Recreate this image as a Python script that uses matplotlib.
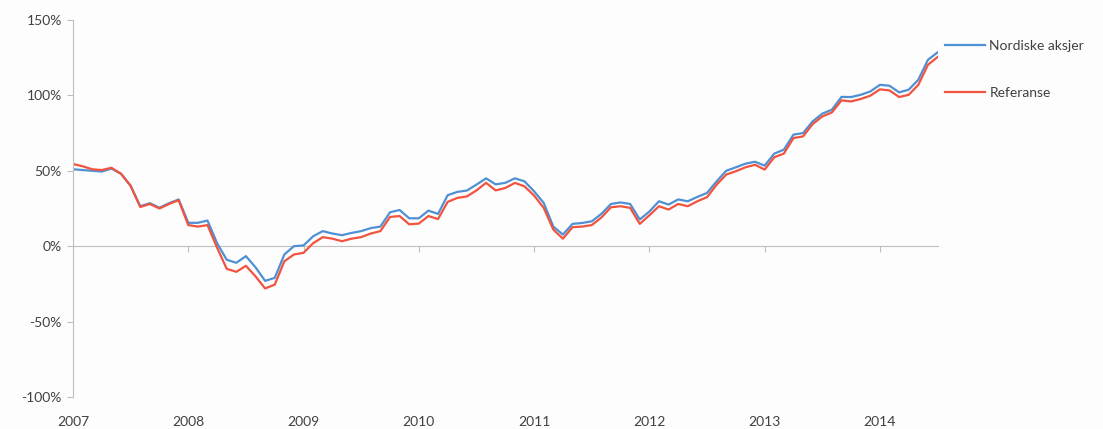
import matplotlib
matplotlib.use('Agg')
import matplotlib.pyplot as plt
from matplotlib.ticker import FuncFormatter

# monthly values, Jan 2007 .. Jul 2014 (percent)
nordiske = [51, 50.5, 50, 49.5, 51.5, 48, 40, 26.5, 28.5, 25.5,
            28.5, 31, 15.5, 15.5, 17, 2, -9, -11, -6.6, -14,
            -23, -21, -5.5, 0, 0.5, 6.6, 10, 8.4, 7.3, 8.8,
            10, 12, 13, 22.5, 24, 18.5, 18.5, 23.6, 21.4, 33.8,
            36, 36.9, 40.8, 45, 41, 42, 45, 43, 36.4, 28.7,
            13, 7.7, 14.8, 15.4, 16.5, 21.4, 28, 29, 28, 17.7,
            23, 29.8, 27.6, 31, 29.8, 32.7, 35.3, 43, 50, 52.3,
            54.7, 56, 53.4, 61.4, 64, 74, 75, 82.8, 87.9, 90.5,
            99, 98.9, 100.4, 102.6, 107, 106.4, 102, 103.8, 110.4, 123.6,
            128.5]
referanse = [54.5, 53, 51, 50.5, 52, 48, 40, 26, 28, 25,
             28, 30.5, 14, 13, 14, -1, -15, -17, -13, -20,
             -28, -25.5, -10, -5.5, -4.4, 2, 6, 5, 3.3, 5,
             6, 8.4, 10, 19.4, 20, 14.5, 15, 20, 18, 29.4,
             32, 33, 37, 42, 37, 38.6, 42, 39.7, 33.6, 25.4,
             11, 5, 12.6, 13, 14, 19, 25.8, 26.5, 25.4, 14.8,
             20.5, 26.5, 24.3, 28, 26.5, 29.8, 32.5, 40.8, 47.5, 49.7,
             52.3, 54, 50.8, 59, 61.4, 71.7, 72.8, 81, 86, 88.7,
             96.7, 96, 97.6, 99.8, 104, 103.3, 98.9, 100.4, 107, 120.3,
             125.4]
years = ['2007', '2008', '2009', '2010', '2011', '2012', '2013', '2014']
y_ticks = [-100, -50, 0, 50, 100, 150]

months = list(range(len(nordiske)))
year_pos = [12 * i for i in range(len(years))]

plt.rcParams['font.family'] = ['Lato', 'DejaVu Sans']
txt = '#404040'
axis_col = '#bfbfbf'

fig = plt.figure(figsize=(11.03, 4.29), dpi=100)
fig.patch.set_facecolor('#fdfdfd')
ax = fig.add_axes([0.0662, 0.0746, 0.7838, 0.8788])
ax.set_facecolor('#fdfdfd')

ax.plot(months, nordiske, color='#4f90d4', lw=1.6, label='Nordiske aksjer')
ax.plot(months, referanse, color='#f2533f', lw=1.6, label='Referanse')

ax.set_xlim(0, months[-1])
ax.set_ylim(-100, 150)
ax.set_yticks(y_ticks)
ax.yaxis.set_major_formatter(FuncFormatter(lambda v, p: f'{v:.0f}%'))
ax.tick_params(axis='y', colors=axis_col, labelcolor=txt, labelsize=10,
               length=4, direction='out', pad=4)

ax.set_xticks(year_pos)
ax.set_xticklabels(years)
ax.tick_params(axis='x', length=0, labelcolor=txt, labelsize=10, pad=14)

for s in ['top', 'right', 'bottom']:
    ax.spines[s].set_visible(False)
ax.spines['left'].set_color(axis_col)
ax.spines['left'].set_linewidth(0.8)

# zero line with year tick marks
sec = ax.secondary_xaxis(0, transform=ax.transData)
sec.set_xticks(year_pos)
sec.set_xticklabels([])
sec.tick_params(length=4, color=axis_col, direction='out')
sec.spines['bottom'].set_color(axis_col)
sec.spines['bottom'].set_linewidth(0.8)

leg = ax.legend(loc='upper left', bbox_to_anchor=(0.8568, 0.9068),
                bbox_transform=fig.transFigure, frameon=False,
                fontsize=10, handlelength=2.9, handletextpad=0.3,
                labelspacing=2.5, borderpad=0, borderaxespad=0)
for t in leg.get_texts():
    t.set_color(txt)

fig.savefig('out.png', dpi=100, facecolor=fig.get_facecolor())
